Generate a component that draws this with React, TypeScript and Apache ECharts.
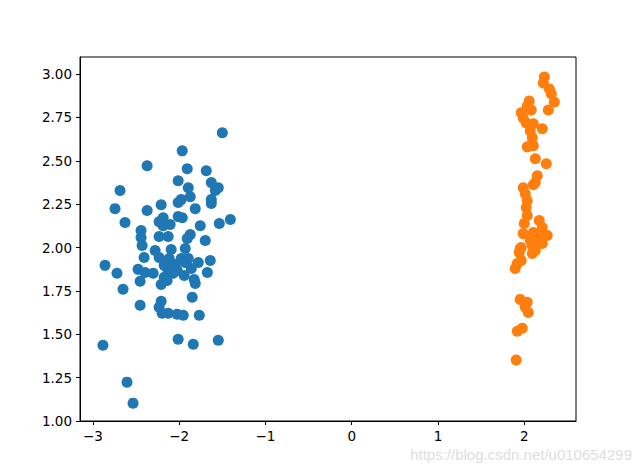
import React, { useEffect, useRef } from "react";
import * as echarts from "echarts";

const blueX = [
  -1.5, -1.965, -2.372, -1.907, -1.686, -2.012, -1.628, -1.895, -1.547, -1.581,
  -2.686, -1.872, -1.977, -2.012, -1.628, -1.628, -2.209, -2.744, -2.372, -1.814,
  -2.628, -2.186, -2.233, -2.012, -1.965, -2.186, -2.105, -1.756, -1.535, -1.407,
  -2.442, -2.442, -2.43, -2.233, -2.128, -1.872, -1.907, -1.698, -2.279, -2.093,
  -1.93, -2.407, -2.86, -2.477, -2.233, -1.977, -1.779, -1.64, -2.721, -2.651,
  -2.453, -2.395, -2.302, -2.209, -2.174, -2.128, -2.07, -2.081, -2.174, -1.942,
  -1.86, -1.826, -1.814, -1.674, -1.849, -2.453, -2.209, -2.233, -2.198, -2.128,
  -2.023, -1.953, -1.767, -2.012, -1.837, -1.547, -2.884, -2.605, -2.535, -2.116,
  -2.047, -2.14, -2.023, -1.93, -1.895,
];
const blueY = [
  2.661, 2.557, 2.471, 2.454, 2.443, 2.385, 2.374, 2.345, 2.345, 2.328,
  2.328, 2.293, 2.276, 2.259, 2.276, 2.253, 2.247, 2.224, 2.213, 2.224,
  2.144, 2.172, 2.149, 2.178, 2.172, 2.126, 2.132, 2.126, 2.138, 2.161,
  2.098, 2.057, 2.011, 2.063, 2.063, 2.075, 2.052, 2.04, 1.983, 1.989,
  1.994, 1.943, 1.897, 1.874, 1.943, 1.937, 1.914, 1.925, 1.851, 1.759,
  1.805, 1.856, 1.851, 1.787, 1.828, 1.868, 1.851, 1.908, 1.897, 1.839,
  1.879, 1.816, 1.793, 1.856, 1.713, 1.667, 1.69, 1.655, 1.621, 1.621,
  1.615, 1.609, 1.609, 1.471, 1.443, 1.466, 1.437, 1.224, 1.103, 1.937,
  1.897, 1.81, 1.868, 1.914, 1.937,
];
const orangeX = [
  2.233, 2.221, 2.291, 2.314, 2.349, 2.279, 2.058, 2.035, 2.081, 1.965,
  1.988, 2.023, 2.105, 2.209, 2.07, 2.093, 2.07, 2.105, 2.035, 2.128,
  2.256, 2.151, 2.128, 2.105, 1.988, 2.012, 2.035, 2.023, 2.035, 2.0,
  2.174, 2.209, 1.988, 2.105, 2.186, 2.267, 2.07, 2.151, 2.209, 1.965,
  2.093, 2.128, 1.953, 1.942, 2.093, 1.965, 1.919, 1.895, 1.953, 2.035,
  2.012, 2.047, 1.977, 1.919, 1.907,
];
const orangeY = [
  2.983, 2.948, 2.914, 2.885, 2.839, 2.793, 2.845, 2.816, 2.793, 2.776,
  2.747, 2.718, 2.713, 2.684, 2.672, 2.632, 2.586, 2.586, 2.58, 2.511,
  2.483, 2.414, 2.374, 2.362, 2.345, 2.31, 2.27, 2.23, 2.184, 2.138,
  2.155, 2.115, 2.08, 2.086, 2.08, 2.069, 2.04, 2.029, 2.023, 2.0,
  2.011, 1.983, 1.994, 1.971, 1.966, 1.925, 1.908, 1.879, 1.701, 1.684,
  1.655, 1.626, 1.534, 1.517, 1.351,
];
const xTicks = [-3, -2, -1, 0, 1, 2];
const yTicks = [1.0, 1.25, 1.5, 1.75, 2.0, 2.25, 2.5, 2.75, 3.0];

const font = "DejaVu Sans";

export default function App() {
  const ref = useRef<HTMLDivElement>(null);
  useEffect(() => {
    if (!ref.current) return;
    const chart = echarts.init(ref.current, undefined, { renderer: "svg" });
    chart.setOption({
      animation: false,
      backgroundColor: "#fff",
      grid: {
        left: 80,
        top: 57,
        right: 64,
        bottom: 52,
        show: true,
        borderColor: "#000",
        borderWidth: 1,
        backgroundColor: "transparent",
      },
      xAxis: {
        type: "value",
        min: -3.15,
        max: 2.6,
        splitLine: { show: false },
        axisLine: { show: true, onZero: false, lineStyle: { color: "#000", width: 1 } },
        axisTick: { show: true, length: 4, lineStyle: { color: "#000" }, customValues: xTicks },
        axisLabel: {
          customValues: xTicks,
          margin: 8,
          color: "#000",
          fontFamily: font,
          fontSize: 13.5,
          formatter: (v: number) => (v < 0 ? "\u2212" + Math.abs(v) : String(v)),
        },
      },
      yAxis: {
        type: "value",
        min: 1.0,
        max: 3.098,
        splitLine: { show: false },
        axisLine: { show: true, onZero: false, lineStyle: { color: "#000", width: 1 } },
        axisTick: { show: true, length: 4, lineStyle: { color: "#000" }, customValues: yTicks },
        axisLabel: {
          customValues: yTicks,
          margin: 8,
          color: "#000",
          fontFamily: font,
          fontSize: 13.5,
          formatter: (v: number) => v.toFixed(2),
        },
      },
      graphic: [
        {
          type: "text",
          right: 8,
          top: 447,
          style: {
            text: "https://blog.csdn.net/u010654299",
            fill: "#dedede",
            font: "15px 'Liberation Sans'",
          },
        },
      ],
      series: [
        {
          type: "scatter",
          symbolSize: 11,
          itemStyle: { color: "#1f77b4", opacity: 1 },
          data: blueX.map((x, i) => [x, blueY[i]]),
        },
        {
          type: "scatter",
          symbolSize: 11,
          itemStyle: { color: "#ff7f0e", opacity: 1 },
          data: orangeX.map((x, i) => [x, orangeY[i]]),
        },
      ],
    });
    return () => chart.dispose();
  }, []);
  return <div ref={ref} style={{ width: 640, height: 473, position: "absolute", left: 0, top: 0 }} />;
}
